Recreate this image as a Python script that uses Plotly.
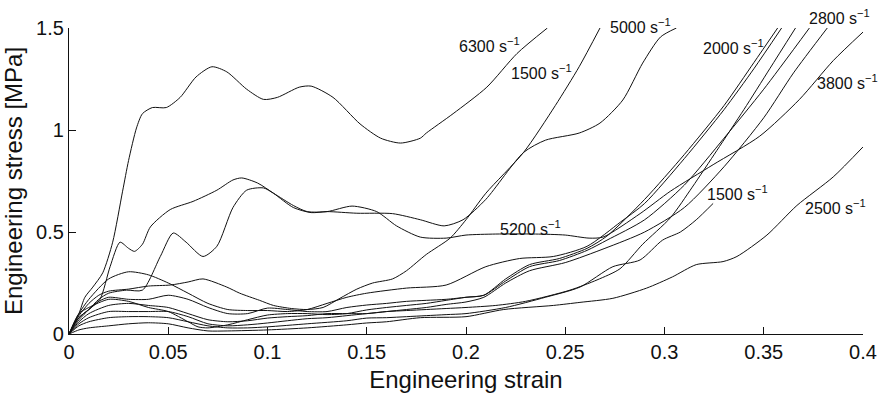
import plotly.graph_objects as go

# ---------------- data (engineering strain, engineering stress [MPa]) ----------------
strain_6300 = [0, 0.005, 0.008, 0.012, 0.017, 0.022, 0.027, 0.03, 0.034, 0.037, 0.042, 0.049, 0.056, 0.064,
               0.072, 0.0795, 0.0895, 0.098, 0.105, 0.116, 0.122, 0.133, 0.1466, 0.157, 0.167, 0.177,
               0.18, 0.1935, 0.2105, 0.2257, 0.241]
stress_6300 = [0, 0.1, 0.18, 0.23, 0.3, 0.45, 0.7, 0.85, 1.01, 1.08, 1.11, 1.11, 1.16, 1.26,
               1.31, 1.285, 1.2, 1.15, 1.16, 1.21, 1.215, 1.16, 1.03, 0.96, 0.936, 0.96,
               0.985, 1.08, 1.21, 1.375, 1.5]

strain_1500a = [0, 0.005, 0.01, 0.015, 0.02, 0.03, 0.04, 0.051, 0.06, 0.0675, 0.0795, 0.086, 0.096,
                0.103, 0.112, 0.12, 0.128, 0.1365, 0.145, 0.153, 0.163, 0.17, 0.18, 0.192, 0.2,
                0.21, 0.229, 0.245, 0.257, 0.2675]
stress_1500a = [0, 0.09, 0.15, 0.19, 0.21, 0.22, 0.235, 0.24, 0.255, 0.27, 0.23, 0.2, 0.165,
                0.14, 0.125, 0.12, 0.13, 0.175, 0.22, 0.25, 0.27, 0.31, 0.39, 0.47, 0.56,
                0.69, 0.89, 1.12, 1.31, 1.5]

strain_5000 = [0, 0.005, 0.01, 0.0156, 0.0207, 0.0257, 0.03, 0.033, 0.037, 0.041, 0.051, 0.0625, 0.0745,
               0.0826, 0.087, 0.095, 0.103, 0.113, 0.122, 0.13, 0.145, 0.163, 0.177, 0.189, 0.1985,
               0.21, 0.229, 0.24, 0.257, 0.2675, 0.279, 0.289, 0.298, 0.306]
stress_5000 = [0, 0.08, 0.12, 0.17, 0.33, 0.45, 0.42, 0.405, 0.44, 0.525, 0.61, 0.65, 0.705,
               0.755, 0.765, 0.74, 0.69, 0.62, 0.595, 0.6, 0.592, 0.59, 0.56, 0.53, 0.56,
               0.66, 0.89, 0.95, 0.985, 1.034, 1.147, 1.328, 1.456, 1.5]

strain_5200 = [0, 0.005, 0.01, 0.015, 0.02, 0.029, 0.037, 0.046, 0.0525, 0.059, 0.0675, 0.0745, 0.0826,
               0.0895, 0.098, 0.103, 0.113, 0.12, 0.13, 0.1426, 0.155, 0.165, 0.177, 0.19, 0.2,
               0.215, 0.235, 0.25, 0.262, 0.269, 0.2877, 0.303, 0.3245, 0.348, 0.368, 0.385, 0.4]
stress_5200 = [0, 0.07, 0.12, 0.17, 0.2, 0.215, 0.215, 0.38, 0.495, 0.45, 0.38, 0.43, 0.62,
               0.705, 0.716, 0.69, 0.63, 0.6, 0.6, 0.627, 0.6, 0.53, 0.475, 0.47, 0.485,
               0.49, 0.49, 0.485, 0.47, 0.475, 0.59, 0.7, 0.83, 0.97, 1.15, 1.34, 1.48]

strain_2000 = [0, 0.005, 0.01, 0.02, 0.03, 0.04, 0.05, 0.06, 0.07, 0.08, 0.09, 0.1, 0.11, 0.12, 0.13,
               0.14, 0.15, 0.17, 0.19, 0.21, 0.227, 0.244, 0.261, 0.278, 0.29, 0.31, 0.33, 0.345, 0.359]
stress_2000 = [0, 0.1, 0.17, 0.27, 0.305, 0.29, 0.25, 0.2, 0.15, 0.12, 0.115, 0.115, 0.11, 0.12, 0.15,
               0.18, 0.2, 0.225, 0.24, 0.33, 0.37, 0.38, 0.43, 0.55, 0.64, 0.86, 1.1, 1.3, 1.5]

strain_a = [0, 0.005, 0.01, 0.015, 0.02, 0.03, 0.04, 0.05, 0.06, 0.07, 0.08, 0.09, 0.1, 0.11, 0.12,
            0.13, 0.14, 0.15, 0.16, 0.17, 0.18, 0.19, 0.2, 0.209, 0.22, 0.232, 0.247, 0.261, 0.271,
            0.29, 0.31, 0.33, 0.345, 0.357]
stress_a = [0, 0.08, 0.12, 0.16, 0.18, 0.17, 0.17, 0.19, 0.17, 0.13, 0.1, 0.1, 0.127, 0.12, 0.11,
            0.11, 0.13, 0.142, 0.15, 0.16, 0.165, 0.17, 0.18, 0.19, 0.27, 0.34, 0.37, 0.42, 0.48,
            0.66, 0.88, 1.12, 1.33, 1.5]

strain_2800 = [0, 0.005, 0.01, 0.02, 0.03, 0.04, 0.05, 0.06, 0.065, 0.07, 0.08, 0.09, 0.1, 0.11, 0.12,
               0.13, 0.14, 0.15, 0.16, 0.17, 0.18, 0.19, 0.2, 0.209, 0.22, 0.232, 0.247, 0.261, 0.271,
               0.29, 0.31, 0.33, 0.35, 0.373]
stress_2800 = [0, 0.1, 0.13, 0.17, 0.16, 0.13, 0.11, 0.06, 0.035, 0.03, 0.045, 0.07, 0.093, 0.1, 0.1,
               0.095, 0.1, 0.118, 0.13, 0.14, 0.15, 0.165, 0.18, 0.19, 0.26, 0.33, 0.36, 0.41, 0.46,
               0.56, 0.73, 0.96, 1.2, 1.5]

strain_b = [0, 0.005, 0.01, 0.02, 0.03, 0.04, 0.05, 0.06, 0.07, 0.08, 0.09, 0.1, 0.11, 0.12, 0.13,
            0.14, 0.15, 0.16, 0.17, 0.18, 0.19, 0.2, 0.209, 0.22, 0.232, 0.25, 0.27, 0.29, 0.31,
            0.33, 0.35, 0.365, 0.382]
stress_b = [0, 0.06, 0.1, 0.14, 0.15, 0.14, 0.13, 0.1, 0.07, 0.06, 0.065, 0.078, 0.085, 0.09, 0.1,
            0.1, 0.1, 0.11, 0.12, 0.13, 0.145, 0.157, 0.18, 0.25, 0.31, 0.35, 0.42, 0.5, 0.62,
            0.82, 1.06, 1.28, 1.5]

strain_c = [0, 0.005, 0.01, 0.02, 0.03, 0.04, 0.05, 0.06, 0.07, 0.08, 0.09, 0.1, 0.11, 0.12, 0.13,
            0.14, 0.15, 0.16, 0.17, 0.18, 0.19, 0.2, 0.215, 0.23, 0.2524, 0.266, 0.2776, 0.289,
            0.303, 0.314, 0.3264, 0.34, 0.353, 0.366]
stress_c = [0, 0.05, 0.08, 0.11, 0.11, 0.11, 0.11, 0.085, 0.05, 0.04, 0.045, 0.054, 0.065, 0.075, 0.08,
            0.09, 0.1, 0.11, 0.115, 0.12, 0.125, 0.13, 0.14, 0.16, 0.215, 0.265, 0.32, 0.44,
            0.57, 0.72, 0.9, 1.1, 1.3, 1.5]

strain_1500b = [0, 0.005, 0.01, 0.02, 0.03, 0.04, 0.05, 0.06, 0.07, 0.08, 0.09, 0.1, 0.12, 0.14, 0.15,
                0.16, 0.17, 0.18, 0.19, 0.2, 0.22, 0.24, 0.2574, 0.274, 0.2877, 0.299, 0.308, 0.316, 0.3245]
stress_1500b = [0, 0.04, 0.06, 0.08, 0.085, 0.085, 0.08, 0.06, 0.04, 0.03, 0.03, 0.035, 0.05, 0.065, 0.078,
                0.08, 0.085, 0.09, 0.095, 0.1, 0.13, 0.18, 0.23, 0.33, 0.363, 0.46, 0.5, 0.56, 0.64]

strain_2500 = [0, 0.005, 0.01, 0.02, 0.03, 0.04, 0.05, 0.06, 0.07, 0.08, 0.1, 0.12, 0.14, 0.15, 0.16,
               0.177, 0.2, 0.219, 0.244, 0.2574, 0.274, 0.291, 0.304, 0.316, 0.3295, 0.3365, 0.3516,
               0.3667, 0.385, 0.4]
stress_2500 = [0, 0.02, 0.03, 0.04, 0.05, 0.055, 0.05, 0.03, 0.015, 0.015, 0.02, 0.03, 0.045, 0.054, 0.06,
               0.08, 0.085, 0.12, 0.14, 0.155, 0.175, 0.225, 0.28, 0.34, 0.355, 0.38, 0.485,
               0.63, 0.77, 0.917]

curves = [
    (strain_6300, stress_6300), (strain_1500a, stress_1500a), (strain_5000, stress_5000),
    (strain_5200, stress_5200), (strain_2000, stress_2000), (strain_a, stress_a),
    (strain_2800, stress_2800), (strain_b, stress_b), (strain_c, stress_c),
    (strain_1500b, stress_1500b), (strain_2500, stress_2500),
]

# rate labels and where they sit (strain, stress)
label_texts = ["6300", "1500", "5000", "2000", "2800", "3800", "5200", "1500", "2500"]
label_x = [0.2116, 0.238, 0.288, 0.335, 0.388, 0.392, 0.2327, 0.337, 0.386]
label_y = [1.417, 1.284, 1.51, 1.407, 1.554, 1.235, 0.52, 0.69, 0.623]

x_range = [0, 0.4]
y_range = [0, 1.5]
x_ticks = [0, 0.05, 0.1, 0.15, 0.2, 0.25, 0.3, 0.35, 0.4]
x_tick_labels = ["0", "0.05", "0.1", "0.15", "0.2", "0.25", "0.3", "0.35", "0.4"]
y_ticks = [0, 0.5, 1, 1.5]
y_tick_labels = ["0", "0.5", "1", "1.5"]

FONT = "Liberation Sans, Arial, Helvetica, sans-serif"

fig = go.Figure()
for sx, sy in curves:
    fig.add_trace(go.Scatter(x=sx, y=sy, mode="lines",
                             line=dict(color="#111111", width=1, shape="spline", smoothing=0.7),
                             showlegend=False, hoverinfo="skip"))

for t, lx, ly in zip(label_texts, label_x, label_y):
    fig.add_annotation(x=lx, xref="x", y=(ly - y_range[0]) / (y_range[1] - y_range[0]), yref="paper",
                       text=f"{t} s<sup>\u22121</sup>", showarrow=False,
                       xanchor="center", yanchor="middle",
                       font=dict(family=FONT, size=16, color="#111111"))

fig.update_layout(
    width=880, height=397,
    margin=dict(l=69, r=17, t=28, b=63),
    paper_bgcolor="white", plot_bgcolor="white",
    font=dict(family=FONT, color="#111111"),
    showlegend=False,
)
fig.update_xaxes(range=x_range, tickvals=x_ticks, ticktext=x_tick_labels, automargin=False,
                 ticks="inside", ticklen=7, tickwidth=1, tickcolor="#111111",
                 showline=True, linecolor="#111111", linewidth=1.2,
                 showgrid=False, zeroline=False,
                 tickfont=dict(size=20, family=FONT),
                 title=dict(text="Engineering strain", font=dict(size=24, family=FONT), standoff=9))
fig.update_yaxes(range=y_range, tickvals=y_ticks, ticktext=y_tick_labels, automargin=False,
                 ticks="inside", ticklen=7, tickwidth=1, tickcolor="#111111",
                 showline=True, linecolor="#111111", linewidth=1.2,
                 showgrid=False, zeroline=False,
                 tickfont=dict(size=20, family=FONT),
                 title=dict(text="Engineering stress [MPa]", font=dict(size=24, family=FONT), standoff=6))

fig.write_html("out.html")
